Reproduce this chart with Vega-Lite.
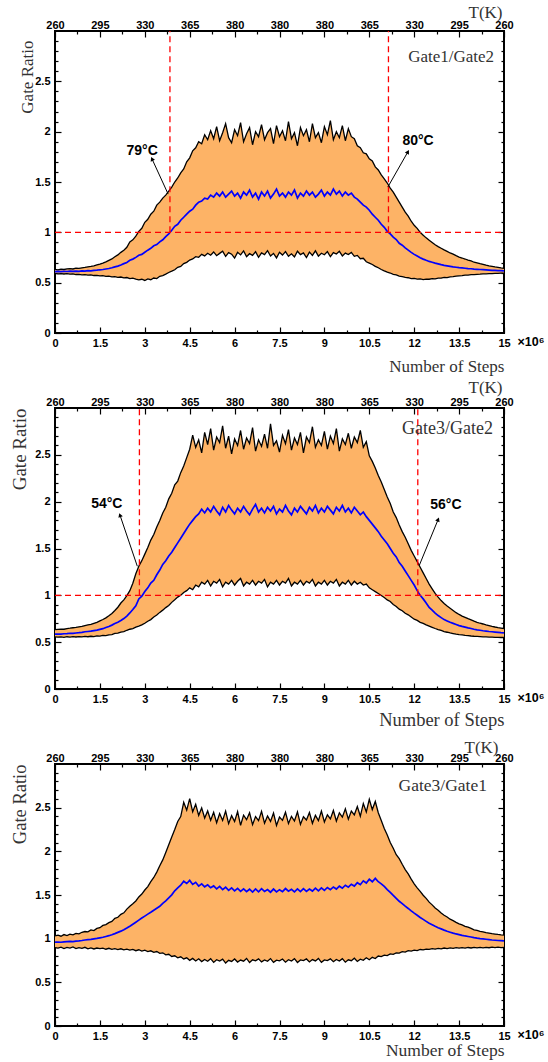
{
"$schema": "https://vega.github.io/schema/vega-lite/v6.json",
"padding": {"left": 9, "top": 2, "right": 5, "bottom": 5},
"spacing": 75,
"bounds": "flush",
"config": {
  "view": {"stroke": "black", "strokeWidth": 2},
  "axis": {"grid": false, "domain": false, "labelFont": "Liberation Sans", "labelFontWeight": "bold", "labelFontSize": 11, "labelColor": "black", "tickColor": "black", "tickWidth": 1.2, "titleFont": "Liberation Serif", "titleFontWeight": "normal", "titleColor": "#333", "labelOverlap": false, "labelFlush": false}
},
"datasets": {
"p1": [
{"x":0,"lo":0.592,"m":0.61,"hi":0.632},{"x":0.1,"lo":0.588,"m":0.612,"hi":0.628},{"x":0.2,"lo":0.59,"m":0.609,"hi":0.635},{"x":0.3,"lo":0.586,"m":0.613,"hi":0.631},{"x":0.4,"lo":0.589,"m":0.611,"hi":0.637},{"x":0.5,"lo":0.584,"m":0.614,"hi":0.64},{"x":0.6,"lo":0.587,"m":0.612,"hi":0.636},{"x":0.7,"lo":0.581,"m":0.615,"hi":0.644},{"x":0.8,"lo":0.583,"m":0.613,"hi":0.642},{"x":0.9,"lo":0.578,"m":0.617,"hi":0.648},
{"x":1,"lo":0.58,"m":0.615,"hi":0.652},{"x":1.1,"lo":0.574,"m":0.619,"hi":0.657},{"x":1.2,"lo":0.577,"m":0.618,"hi":0.661},{"x":1.3,"lo":0.571,"m":0.622,"hi":0.667},{"x":1.4,"lo":0.573,"m":0.624,"hi":0.676},{"x":1.5,"lo":0.567,"m":0.628,"hi":0.684},{"x":1.6,"lo":0.569,"m":0.631,"hi":0.695},{"x":1.7,"lo":0.563,"m":0.636,"hi":0.707},{"x":1.8,"lo":0.565,"m":0.641,"hi":0.722},{"x":1.9,"lo":0.558,"m":0.648,"hi":0.736},
{"x":2,"lo":0.56,"m":0.657,"hi":0.758},{"x":2.1,"lo":0.553,"m":0.664,"hi":0.776},{"x":2.2,"lo":0.556,"m":0.676,"hi":0.801},{"x":2.3,"lo":0.548,"m":0.689,"hi":0.822},{"x":2.4,"lo":0.551,"m":0.701,"hi":0.851},{"x":2.5,"lo":0.541,"m":0.722,"hi":0.905},{"x":2.6,"lo":0.545,"m":0.734,"hi":0.925},{"x":2.7,"lo":0.536,"m":0.751,"hi":0.962},{"x":2.8,"lo":0.528,"m":0.772,"hi":1.01},{"x":2.9,"lo":0.534,"m":0.781,"hi":1.04},
{"x":3,"lo":0.522,"m":0.802,"hi":1.1},{"x":3.1,"lo":0.538,"m":0.823,"hi":1.13},{"x":3.2,"lo":0.529,"m":0.841,"hi":1.18},{"x":3.3,"lo":0.546,"m":0.866,"hi":1.21},{"x":3.4,"lo":0.541,"m":0.878,"hi":1.27},{"x":3.5,"lo":0.563,"m":0.905,"hi":1.3},{"x":3.6,"lo":0.571,"m":0.926,"hi":1.34},{"x":3.7,"lo":0.585,"m":0.957,"hi":1.37},{"x":3.8,"lo":0.601,"m":0.985,"hi":1.41},{"x":3.9,"lo":0.614,"m":1.02,"hi":1.45},
{"x":4,"lo":0.628,"m":1.06,"hi":1.5},{"x":4.1,"lo":0.652,"m":1.08,"hi":1.54},{"x":4.2,"lo":0.661,"m":1.12,"hi":1.59},{"x":4.3,"lo":0.689,"m":1.15,"hi":1.63},{"x":4.4,"lo":0.702,"m":1.18,"hi":1.7},{"x":4.5,"lo":0.725,"m":1.21,"hi":1.74},{"x":4.6,"lo":0.736,"m":1.23,"hi":1.81},{"x":4.7,"lo":0.758,"m":1.27,"hi":1.84},{"x":4.8,"lo":0.752,"m":1.3,"hi":1.9},{"x":4.9,"lo":0.781,"m":1.31,"hi":1.88},
{"x":5,"lo":0.766,"m":1.34,"hi":1.97},{"x":5.1,"lo":0.792,"m":1.33,"hi":1.92},{"x":5.2,"lo":0.773,"m":1.37,"hi":2.01},{"x":5.3,"lo":0.805,"m":1.35,"hi":1.93},{"x":5.4,"lo":0.768,"m":1.39,"hi":2.05},{"x":5.5,"lo":0.791,"m":1.36,"hi":1.91},{"x":5.6,"lo":0.812,"m":1.4,"hi":1.99},{"x":5.7,"lo":0.762,"m":1.35,"hi":2.08},{"x":5.8,"lo":0.798,"m":1.38,"hi":1.94},{"x":5.9,"lo":0.783,"m":1.41,"hi":1.89},
{"x":6,"lo":0.744,"m":1.36,"hi":2.02},{"x":6.1,"lo":0.801,"m":1.39,"hi":1.96},{"x":6.2,"lo":0.776,"m":1.34,"hi":2.09},{"x":6.3,"lo":0.815,"m":1.4,"hi":1.9},{"x":6.4,"lo":0.759,"m":1.37,"hi":1.98},{"x":6.5,"lo":0.788,"m":1.42,"hi":2.04},{"x":6.6,"lo":0.771,"m":1.35,"hi":1.87},{"x":6.7,"lo":0.807,"m":1.39,"hi":2.0},{"x":6.8,"lo":0.752,"m":1.33,"hi":1.95},{"x":6.9,"lo":0.795,"m":1.4,"hi":2.07},
{"x":7,"lo":0.779,"m":1.36,"hi":1.92},{"x":7.1,"lo":0.818,"m":1.41,"hi":1.99},{"x":7.2,"lo":0.765,"m":1.34,"hi":2.03},{"x":7.3,"lo":0.791,"m":1.38,"hi":1.88},{"x":7.4,"lo":0.746,"m":1.43,"hi":2.06},{"x":7.5,"lo":0.802,"m":1.36,"hi":1.95},{"x":7.6,"lo":0.774,"m":1.39,"hi":2.01},{"x":7.7,"lo":0.809,"m":1.35,"hi":1.91},{"x":7.8,"lo":0.762,"m":1.4,"hi":2.1},{"x":7.9,"lo":0.787,"m":1.37,"hi":1.93},
{"x":8,"lo":0.756,"m":1.42,"hi":1.99},{"x":8.1,"lo":0.812,"m":1.34,"hi":1.86},{"x":8.2,"lo":0.778,"m":1.39,"hi":2.04},{"x":8.3,"lo":0.795,"m":1.36,"hi":1.96},{"x":8.4,"lo":0.749,"m":1.41,"hi":2.02},{"x":8.5,"lo":0.803,"m":1.37,"hi":1.9},{"x":8.6,"lo":0.771,"m":1.4,"hi":2.08},{"x":8.7,"lo":0.816,"m":1.35,"hi":1.94},{"x":8.8,"lo":0.763,"m":1.38,"hi":1.99},{"x":8.9,"lo":0.792,"m":1.42,"hi":1.89},
{"x":9,"lo":0.777,"m":1.36,"hi":2.05},{"x":9.1,"lo":0.808,"m":1.4,"hi":1.97},{"x":9.2,"lo":0.758,"m":1.37,"hi":2.11},{"x":9.3,"lo":0.798,"m":1.43,"hi":1.92},{"x":9.4,"lo":0.784,"m":1.38,"hi":2.0},{"x":9.5,"lo":0.811,"m":1.41,"hi":1.94},{"x":9.6,"lo":0.766,"m":1.36,"hi":2.06},{"x":9.7,"lo":0.794,"m":1.4,"hi":1.91},{"x":9.8,"lo":0.779,"m":1.37,"hi":2.03},{"x":9.9,"lo":0.801,"m":1.39,"hi":1.95},
{"x":10,"lo":0.762,"m":1.35,"hi":1.93},{"x":10.1,"lo":0.771,"m":1.33,"hi":1.86},{"x":10.2,"lo":0.738,"m":1.3,"hi":1.84},{"x":10.3,"lo":0.742,"m":1.27,"hi":1.79},{"x":10.4,"lo":0.708,"m":1.25,"hi":1.78},{"x":10.5,"lo":0.695,"m":1.22,"hi":1.73},{"x":10.6,"lo":0.681,"m":1.18,"hi":1.71},{"x":10.7,"lo":0.662,"m":1.15,"hi":1.65},{"x":10.8,"lo":0.648,"m":1.12,"hi":1.62},{"x":10.9,"lo":0.631,"m":1.08,"hi":1.57},
{"x":11,"lo":0.617,"m":1.05,"hi":1.53},{"x":11.1,"lo":0.604,"m":1.01,"hi":1.49},{"x":11.2,"lo":0.596,"m":0.985,"hi":1.44},{"x":11.3,"lo":0.583,"m":0.952,"hi":1.4},{"x":11.4,"lo":0.578,"m":0.928,"hi":1.35},{"x":11.5,"lo":0.566,"m":0.891,"hi":1.3},{"x":11.6,"lo":0.561,"m":0.872,"hi":1.25},{"x":11.7,"lo":0.552,"m":0.845,"hi":1.2},{"x":11.8,"lo":0.549,"m":0.823,"hi":1.16},{"x":11.9,"lo":0.541,"m":0.801,"hi":1.11},
{"x":12,"lo":0.543,"m":0.781,"hi":1.07},{"x":12.1,"lo":0.535,"m":0.765,"hi":1.04},{"x":12.2,"lo":0.538,"m":0.748,"hi":1.0},{"x":12.3,"lo":0.531,"m":0.734,"hi":0.972},{"x":12.4,"lo":0.536,"m":0.722,"hi":0.945},{"x":12.5,"lo":0.534,"m":0.711,"hi":0.921},{"x":12.6,"lo":0.541,"m":0.703,"hi":0.898},{"x":12.7,"lo":0.538,"m":0.694,"hi":0.876},{"x":12.8,"lo":0.546,"m":0.687,"hi":0.858},{"x":12.9,"lo":0.545,"m":0.679,"hi":0.842},
{"x":13,"lo":0.553,"m":0.672,"hi":0.826},{"x":13.1,"lo":0.551,"m":0.667,"hi":0.811},{"x":13.2,"lo":0.558,"m":0.662,"hi":0.795},{"x":13.3,"lo":0.56,"m":0.657,"hi":0.783},{"x":13.4,"lo":0.564,"m":0.653,"hi":0.768},{"x":13.5,"lo":0.568,"m":0.649,"hi":0.754},{"x":13.6,"lo":0.57,"m":0.646,"hi":0.745},{"x":13.7,"lo":0.574,"m":0.643,"hi":0.735},{"x":13.8,"lo":0.575,"m":0.64,"hi":0.724},{"x":13.9,"lo":0.579,"m":0.638,"hi":0.716},
{"x":14,"lo":0.58,"m":0.635,"hi":0.703},{"x":14.1,"lo":0.583,"m":0.633,"hi":0.697},{"x":14.2,"lo":0.584,"m":0.631,"hi":0.688},{"x":14.3,"lo":0.587,"m":0.629,"hi":0.682},{"x":14.4,"lo":0.588,"m":0.627,"hi":0.674},{"x":14.5,"lo":0.59,"m":0.625,"hi":0.667},{"x":14.6,"lo":0.59,"m":0.623,"hi":0.662},{"x":14.7,"lo":0.592,"m":0.622,"hi":0.656},{"x":14.8,"lo":0.593,"m":0.62,"hi":0.652},{"x":14.9,"lo":0.594,"m":0.619,"hi":0.647},
{"x":15,"lo":0.595,"m":0.618,"hi":0.643}
],
"p2": [
{"x":0,"lo":0.556,"m":0.585,"hi":0.633},{"x":0.1,"lo":0.553,"m":0.587,"hi":0.637},{"x":0.2,"lo":0.557,"m":0.586,"hi":0.64},{"x":0.3,"lo":0.552,"m":0.59,"hi":0.638},{"x":0.4,"lo":0.558,"m":0.591,"hi":0.645},{"x":0.5,"lo":0.554,"m":0.595,"hi":0.649},{"x":0.6,"lo":0.559,"m":0.594,"hi":0.654},{"x":0.7,"lo":0.555,"m":0.598,"hi":0.657},{"x":0.8,"lo":0.56,"m":0.601,"hi":0.664},{"x":0.9,"lo":0.556,"m":0.605,"hi":0.668},
{"x":1,"lo":0.561,"m":0.611,"hi":0.677},{"x":1.1,"lo":0.558,"m":0.614,"hi":0.684},{"x":1.2,"lo":0.563,"m":0.617,"hi":0.689},{"x":1.3,"lo":0.56,"m":0.623,"hi":0.701},{"x":1.4,"lo":0.567,"m":0.629,"hi":0.712},{"x":1.5,"lo":0.565,"m":0.637,"hi":0.728},{"x":1.6,"lo":0.572,"m":0.644,"hi":0.742},{"x":1.7,"lo":0.57,"m":0.656,"hi":0.759},{"x":1.8,"lo":0.578,"m":0.667,"hi":0.781},{"x":1.9,"lo":0.581,"m":0.682,"hi":0.806},
{"x":2,"lo":0.593,"m":0.699,"hi":0.838},{"x":2.1,"lo":0.596,"m":0.712,"hi":0.873},{"x":2.2,"lo":0.608,"m":0.731,"hi":0.918},{"x":2.3,"lo":0.612,"m":0.752,"hi":0.951},{"x":2.4,"lo":0.627,"m":0.779,"hi":0.997},{"x":2.5,"lo":0.638,"m":0.812,"hi":1.05},{"x":2.6,"lo":0.645,"m":0.848,"hi":1.13},{"x":2.7,"lo":0.661,"m":0.889,"hi":1.23},{"x":2.8,"lo":0.672,"m":0.962,"hi":1.31},{"x":2.9,"lo":0.684,"m":0.991,"hi":1.37},
{"x":3,"lo":0.702,"m":1.04,"hi":1.44},{"x":3.1,"lo":0.724,"m":1.08,"hi":1.51},{"x":3.2,"lo":0.741,"m":1.13,"hi":1.59},{"x":3.3,"lo":0.768,"m":1.16,"hi":1.65},{"x":3.4,"lo":0.789,"m":1.22,"hi":1.73},{"x":3.5,"lo":0.818,"m":1.27,"hi":1.8},{"x":3.6,"lo":0.842,"m":1.33,"hi":1.88},{"x":3.7,"lo":0.869,"m":1.37,"hi":1.94},{"x":3.8,"lo":0.891,"m":1.42,"hi":2.03},{"x":3.9,"lo":0.925,"m":1.46,"hi":2.09},
{"x":4,"lo":0.952,"m":1.51,"hi":2.18},{"x":4.1,"lo":0.981,"m":1.56,"hi":2.22},{"x":4.2,"lo":1.0,"m":1.61,"hi":2.31},{"x":4.3,"lo":1.03,"m":1.66,"hi":2.38},{"x":4.4,"lo":1.05,"m":1.71,"hi":2.47},{"x":4.5,"lo":1.08,"m":1.76,"hi":2.56},{"x":4.6,"lo":1.06,"m":1.8,"hi":2.71},{"x":4.7,"lo":1.11,"m":1.84,"hi":2.58},{"x":4.8,"lo":1.09,"m":1.87,"hi":2.66},{"x":4.9,"lo":1.14,"m":1.92,"hi":2.52},
{"x":5,"lo":1.12,"m":1.88,"hi":2.74},{"x":5.1,"lo":1.16,"m":1.93,"hi":2.61},{"x":5.2,"lo":1.1,"m":1.89,"hi":2.78},{"x":5.3,"lo":1.15,"m":1.95,"hi":2.55},{"x":5.4,"lo":1.13,"m":1.9,"hi":2.69},{"x":5.5,"lo":1.17,"m":1.86,"hi":2.63},{"x":5.6,"lo":1.09,"m":1.94,"hi":2.81},{"x":5.7,"lo":1.14,"m":1.89,"hi":2.57},{"x":5.8,"lo":1.12,"m":1.96,"hi":2.7},{"x":5.9,"lo":1.16,"m":1.91,"hi":2.51},
{"x":6,"lo":1.11,"m":1.87,"hi":2.67},{"x":6.1,"lo":1.15,"m":1.93,"hi":2.6},{"x":6.2,"lo":1.18,"m":1.89,"hi":2.76},{"x":6.3,"lo":1.1,"m":1.95,"hi":2.56},{"x":6.4,"lo":1.14,"m":1.9,"hi":2.68},{"x":6.5,"lo":1.12,"m":1.86,"hi":2.62},{"x":6.6,"lo":1.16,"m":1.92,"hi":2.79},{"x":6.7,"lo":1.11,"m":1.97,"hi":2.54},{"x":6.8,"lo":1.15,"m":1.89,"hi":2.66},{"x":6.9,"lo":1.13,"m":1.93,"hi":2.59},
{"x":7,"lo":1.17,"m":1.88,"hi":2.72},{"x":7.1,"lo":1.09,"m":1.94,"hi":2.57},{"x":7.2,"lo":1.14,"m":1.9,"hi":2.83},{"x":7.3,"lo":1.12,"m":1.95,"hi":2.6},{"x":7.4,"lo":1.16,"m":1.87,"hi":2.65},{"x":7.5,"lo":1.11,"m":1.92,"hi":2.53},{"x":7.6,"lo":1.15,"m":1.89,"hi":2.71},{"x":7.7,"lo":1.13,"m":1.96,"hi":2.62},{"x":7.8,"lo":1.18,"m":1.9,"hi":2.77},{"x":7.9,"lo":1.1,"m":1.86,"hi":2.55},
{"x":8,"lo":1.14,"m":1.93,"hi":2.68},{"x":8.1,"lo":1.12,"m":1.89,"hi":2.61},{"x":8.2,"lo":1.16,"m":1.95,"hi":2.74},{"x":8.3,"lo":1.11,"m":1.91,"hi":2.52},{"x":8.4,"lo":1.15,"m":1.87,"hi":2.69},{"x":8.5,"lo":1.13,"m":1.94,"hi":2.63},{"x":8.6,"lo":1.17,"m":1.9,"hi":2.8},{"x":8.7,"lo":1.1,"m":1.96,"hi":2.58},{"x":8.8,"lo":1.14,"m":1.88,"hi":2.66},{"x":8.9,"lo":1.12,"m":1.93,"hi":2.6},
{"x":9,"lo":1.16,"m":1.89,"hi":2.75},{"x":9.1,"lo":1.11,"m":1.95,"hi":2.56},{"x":9.2,"lo":1.15,"m":1.91,"hi":2.7},{"x":9.3,"lo":1.13,"m":1.87,"hi":2.62},{"x":9.4,"lo":1.17,"m":1.94,"hi":2.78},{"x":9.5,"lo":1.1,"m":1.9,"hi":2.54},{"x":9.6,"lo":1.14,"m":1.96,"hi":2.67},{"x":9.7,"lo":1.12,"m":1.89,"hi":2.61},{"x":9.8,"lo":1.16,"m":1.93,"hi":2.73},{"x":9.9,"lo":1.11,"m":1.88,"hi":2.57},
{"x":10,"lo":1.15,"m":1.94,"hi":2.69},{"x":10.1,"lo":1.12,"m":1.9,"hi":2.63},{"x":10.2,"lo":1.14,"m":1.86,"hi":2.76},{"x":10.3,"lo":1.11,"m":1.89,"hi":2.58},{"x":10.4,"lo":1.12,"m":1.84,"hi":2.64},{"x":10.5,"lo":1.08,"m":1.8,"hi":2.49},{"x":10.6,"lo":1.06,"m":1.76,"hi":2.43},{"x":10.7,"lo":1.04,"m":1.72,"hi":2.36},{"x":10.8,"lo":1.02,"m":1.68,"hi":2.28},{"x":10.9,"lo":0.998,"m":1.63,"hi":2.21},
{"x":11,"lo":0.976,"m":1.59,"hi":2.13},{"x":11.1,"lo":0.951,"m":1.55,"hi":2.05},{"x":11.2,"lo":0.934,"m":1.5,"hi":1.98},{"x":11.3,"lo":0.902,"m":1.45,"hi":1.89},{"x":11.4,"lo":0.881,"m":1.41,"hi":1.83},{"x":11.5,"lo":0.852,"m":1.35,"hi":1.75},{"x":11.6,"lo":0.835,"m":1.31,"hi":1.68},{"x":11.7,"lo":0.808,"m":1.26,"hi":1.62},{"x":11.8,"lo":0.792,"m":1.21,"hi":1.55},{"x":11.9,"lo":0.768,"m":1.16,"hi":1.48},
{"x":12,"lo":0.745,"m":1.11,"hi":1.42},{"x":12.1,"lo":0.733,"m":1.05,"hi":1.36},{"x":12.2,"lo":0.712,"m":1.0,"hi":1.3},{"x":12.3,"lo":0.701,"m":0.962,"hi":1.24},{"x":12.4,"lo":0.685,"m":0.918,"hi":1.18},{"x":12.5,"lo":0.672,"m":0.871,"hi":1.12},{"x":12.6,"lo":0.659,"m":0.843,"hi":1.07},{"x":12.7,"lo":0.646,"m":0.811,"hi":1.02},{"x":12.8,"lo":0.634,"m":0.784,"hi":0.981},{"x":12.9,"lo":0.625,"m":0.762,"hi":0.944},
{"x":13,"lo":0.612,"m":0.741,"hi":0.912},{"x":13.1,"lo":0.606,"m":0.727,"hi":0.885},{"x":13.2,"lo":0.598,"m":0.712,"hi":0.862},{"x":13.3,"lo":0.592,"m":0.701,"hi":0.838},{"x":13.4,"lo":0.586,"m":0.689,"hi":0.815},{"x":13.5,"lo":0.581,"m":0.677,"hi":0.796},{"x":13.6,"lo":0.577,"m":0.668,"hi":0.778},{"x":13.7,"lo":0.573,"m":0.661,"hi":0.765},{"x":13.8,"lo":0.57,"m":0.653,"hi":0.751},{"x":13.9,"lo":0.566,"m":0.646,"hi":0.738},
{"x":14,"lo":0.563,"m":0.638,"hi":0.724},{"x":14.1,"lo":0.561,"m":0.632,"hi":0.712},{"x":14.2,"lo":0.559,"m":0.627,"hi":0.702},{"x":14.3,"lo":0.557,"m":0.622,"hi":0.694},{"x":14.4,"lo":0.556,"m":0.618,"hi":0.685},{"x":14.5,"lo":0.554,"m":0.614,"hi":0.677},{"x":14.6,"lo":0.553,"m":0.611,"hi":0.669},{"x":14.7,"lo":0.552,"m":0.608,"hi":0.662},{"x":14.8,"lo":0.551,"m":0.605,"hi":0.656},{"x":14.9,"lo":0.55,"m":0.602,"hi":0.651},
{"x":15,"lo":0.55,"m":0.6,"hi":0.646}
],
"p3": [
{"x":0,"lo":0.898,"m":0.96,"hi":1.032},{"x":0.1,"lo":0.891,"m":0.962,"hi":1.041},{"x":0.2,"lo":0.903,"m":0.959,"hi":1.028},{"x":0.3,"lo":0.887,"m":0.964,"hi":1.047},{"x":0.4,"lo":0.899,"m":0.966,"hi":1.036},{"x":0.5,"lo":0.892,"m":0.968,"hi":1.052},{"x":0.6,"lo":0.905,"m":0.967,"hi":1.044},{"x":0.7,"lo":0.886,"m":0.972,"hi":1.061},{"x":0.8,"lo":0.897,"m":0.975,"hi":1.055},{"x":0.9,"lo":0.889,"m":0.979,"hi":1.073},
{"x":1,"lo":0.901,"m":0.985,"hi":1.082},{"x":1.1,"lo":0.884,"m":0.988,"hi":1.078},{"x":1.2,"lo":0.895,"m":0.991,"hi":1.101},{"x":1.3,"lo":0.882,"m":0.997,"hi":1.093},{"x":1.4,"lo":0.893,"m":1.003,"hi":1.118},{"x":1.5,"lo":0.886,"m":1.01,"hi":1.126},{"x":1.6,"lo":0.892,"m":1.016,"hi":1.152},{"x":1.7,"lo":0.879,"m":1.025,"hi":1.161},{"x":1.8,"lo":0.89,"m":1.034,"hi":1.183},{"x":1.9,"lo":0.877,"m":1.045,"hi":1.197},
{"x":2,"lo":0.886,"m":1.058,"hi":1.232},{"x":2.1,"lo":0.874,"m":1.072,"hi":1.245},{"x":2.2,"lo":0.884,"m":1.086,"hi":1.279},{"x":2.3,"lo":0.871,"m":1.103,"hi":1.296},{"x":2.4,"lo":0.88,"m":1.121,"hi":1.338},{"x":2.5,"lo":0.868,"m":1.142,"hi":1.372},{"x":2.6,"lo":0.877,"m":1.165,"hi":1.401},{"x":2.7,"lo":0.862,"m":1.188,"hi":1.432},{"x":2.8,"lo":0.873,"m":1.212,"hi":1.478},{"x":2.9,"lo":0.858,"m":1.236,"hi":1.511},
{"x":3,"lo":0.869,"m":1.258,"hi":1.557},{"x":3.1,"lo":0.852,"m":1.281,"hi":1.596},{"x":3.2,"lo":0.861,"m":1.302,"hi":1.652},{"x":3.3,"lo":0.844,"m":1.326,"hi":1.701},{"x":3.4,"lo":0.853,"m":1.348,"hi":1.762},{"x":3.5,"lo":0.832,"m":1.371,"hi":1.835},{"x":3.6,"lo":0.838,"m":1.405,"hi":1.902},{"x":3.7,"lo":0.815,"m":1.432,"hi":1.987},{"x":3.8,"lo":0.821,"m":1.468,"hi":2.076},{"x":3.9,"lo":0.796,"m":1.502,"hi":2.165},
{"x":4,"lo":0.804,"m":1.548,"hi":2.249},{"x":4.1,"lo":0.781,"m":1.581,"hi":2.342},{"x":4.2,"lo":0.792,"m":1.612,"hi":2.398},{"x":4.3,"lo":0.768,"m":1.658,"hi":2.562},{"x":4.4,"lo":0.781,"m":1.632,"hi":2.471},{"x":4.5,"lo":0.752,"m":1.667,"hi":2.603},{"x":4.6,"lo":0.774,"m":1.621,"hi":2.452},{"x":4.7,"lo":0.745,"m":1.645,"hi":2.538},{"x":4.8,"lo":0.769,"m":1.602,"hi":2.412},{"x":4.9,"lo":0.738,"m":1.628,"hi":2.497},
{"x":5,"lo":0.762,"m":1.594,"hi":2.381},{"x":5.1,"lo":0.741,"m":1.617,"hi":2.462},{"x":5.2,"lo":0.771,"m":1.583,"hi":2.356},{"x":5.3,"lo":0.728,"m":1.604,"hi":2.447},{"x":5.4,"lo":0.759,"m":1.571,"hi":2.328},{"x":5.5,"lo":0.744,"m":1.598,"hi":2.432},{"x":5.6,"lo":0.766,"m":1.562,"hi":2.354},{"x":5.7,"lo":0.721,"m":1.589,"hi":2.461},{"x":5.8,"lo":0.752,"m":1.553,"hi":2.317},{"x":5.9,"lo":0.739,"m":1.581,"hi":2.408},
{"x":6,"lo":0.768,"m":1.547,"hi":2.342},{"x":6.1,"lo":0.732,"m":1.576,"hi":2.455},{"x":6.2,"lo":0.755,"m":1.542,"hi":2.298},{"x":6.3,"lo":0.742,"m":1.571,"hi":2.414},{"x":6.4,"lo":0.773,"m":1.538,"hi":2.362},{"x":6.5,"lo":0.726,"m":1.566,"hi":2.442},{"x":6.6,"lo":0.758,"m":1.534,"hi":2.306},{"x":6.7,"lo":0.746,"m":1.569,"hi":2.398},{"x":6.8,"lo":0.769,"m":1.537,"hi":2.351},{"x":6.9,"lo":0.734,"m":1.572,"hi":2.457},
{"x":7,"lo":0.757,"m":1.541,"hi":2.322},{"x":7.1,"lo":0.741,"m":1.563,"hi":2.404},{"x":7.2,"lo":0.772,"m":1.532,"hi":2.343},{"x":7.3,"lo":0.729,"m":1.568,"hi":2.438},{"x":7.4,"lo":0.754,"m":1.536,"hi":2.296},{"x":7.5,"lo":0.747,"m":1.561,"hi":2.392},{"x":7.6,"lo":0.767,"m":1.539,"hi":2.355},{"x":7.7,"lo":0.731,"m":1.574,"hi":2.448},{"x":7.8,"lo":0.759,"m":1.543,"hi":2.318},{"x":7.9,"lo":0.743,"m":1.565,"hi":2.401},
{"x":8,"lo":0.771,"m":1.535,"hi":2.347},{"x":8.1,"lo":0.727,"m":1.569,"hi":2.452},{"x":8.2,"lo":0.756,"m":1.538,"hi":2.308},{"x":8.3,"lo":0.748,"m":1.572,"hi":2.396},{"x":8.4,"lo":0.768,"m":1.541,"hi":2.359},{"x":8.5,"lo":0.733,"m":1.567,"hi":2.444},{"x":8.6,"lo":0.761,"m":1.545,"hi":2.321},{"x":8.7,"lo":0.745,"m":1.578,"hi":2.412},{"x":8.8,"lo":0.774,"m":1.547,"hi":2.352},{"x":8.9,"lo":0.729,"m":1.581,"hi":2.461},
{"x":9,"lo":0.757,"m":1.552,"hi":2.336},{"x":9.1,"lo":0.749,"m":1.586,"hi":2.418},{"x":9.2,"lo":0.769,"m":1.561,"hi":2.372},{"x":9.3,"lo":0.736,"m":1.592,"hi":2.468},{"x":9.4,"lo":0.762,"m":1.568,"hi":2.347},{"x":9.5,"lo":0.744,"m":1.601,"hi":2.441},{"x":9.6,"lo":0.771,"m":1.579,"hi":2.392},{"x":9.7,"lo":0.731,"m":1.612,"hi":2.487},{"x":9.8,"lo":0.758,"m":1.589,"hi":2.368},{"x":9.9,"lo":0.748,"m":1.623,"hi":2.462},
{"x":10,"lo":0.776,"m":1.602,"hi":2.418},{"x":10.1,"lo":0.739,"m":1.641,"hi":2.512},{"x":10.2,"lo":0.765,"m":1.618,"hi":2.401},{"x":10.3,"lo":0.752,"m":1.662,"hi":2.548},{"x":10.4,"lo":0.781,"m":1.637,"hi":2.452},{"x":10.5,"lo":0.758,"m":1.681,"hi":2.596},{"x":10.6,"lo":0.786,"m":1.652,"hi":2.478},{"x":10.7,"lo":0.772,"m":1.691,"hi":2.571},{"x":10.8,"lo":0.801,"m":1.652,"hi":2.442},{"x":10.9,"lo":0.794,"m":1.628,"hi":2.352},
{"x":11,"lo":0.812,"m":1.598,"hi":2.261},{"x":11.1,"lo":0.806,"m":1.562,"hi":2.187},{"x":11.2,"lo":0.826,"m":1.531,"hi":2.101},{"x":11.3,"lo":0.821,"m":1.495,"hi":2.036},{"x":11.4,"lo":0.838,"m":1.462,"hi":1.962},{"x":11.5,"lo":0.834,"m":1.428,"hi":1.917},{"x":11.6,"lo":0.851,"m":1.401,"hi":1.852},{"x":11.7,"lo":0.846,"m":1.372,"hi":1.791},{"x":11.8,"lo":0.862,"m":1.346,"hi":1.742},{"x":11.9,"lo":0.858,"m":1.318,"hi":1.681},
{"x":12,"lo":0.869,"m":1.292,"hi":1.628},{"x":12.1,"lo":0.864,"m":1.268,"hi":1.582},{"x":12.2,"lo":0.876,"m":1.242,"hi":1.541},{"x":12.3,"lo":0.871,"m":1.221,"hi":1.497},{"x":12.4,"lo":0.881,"m":1.198,"hi":1.462},{"x":12.5,"lo":0.877,"m":1.176,"hi":1.418},{"x":12.6,"lo":0.886,"m":1.159,"hi":1.387},{"x":12.7,"lo":0.88,"m":1.141,"hi":1.352},{"x":12.8,"lo":0.889,"m":1.126,"hi":1.326},{"x":12.9,"lo":0.884,"m":1.112,"hi":1.295},
{"x":13,"lo":0.893,"m":1.098,"hi":1.268},{"x":13.1,"lo":0.887,"m":1.085,"hi":1.248},{"x":13.2,"lo":0.895,"m":1.074,"hi":1.223},{"x":13.3,"lo":0.889,"m":1.063,"hi":1.207},{"x":13.4,"lo":0.897,"m":1.054,"hi":1.186},{"x":13.5,"lo":0.891,"m":1.046,"hi":1.169},{"x":13.6,"lo":0.898,"m":1.038,"hi":1.158},{"x":13.7,"lo":0.892,"m":1.031,"hi":1.141},{"x":13.8,"lo":0.899,"m":1.025,"hi":1.132},{"x":13.9,"lo":0.893,"m":1.019,"hi":1.118},
{"x":14,"lo":0.9,"m":1.012,"hi":1.101},{"x":14.1,"lo":0.894,"m":1.006,"hi":1.095},{"x":14.2,"lo":0.901,"m":1.001,"hi":1.084},{"x":14.3,"lo":0.895,"m":0.997,"hi":1.078},{"x":14.4,"lo":0.901,"m":0.993,"hi":1.069},{"x":14.5,"lo":0.896,"m":0.989,"hi":1.064},{"x":14.6,"lo":0.902,"m":0.985,"hi":1.057},{"x":14.7,"lo":0.897,"m":0.982,"hi":1.053},{"x":14.8,"lo":0.902,"m":0.979,"hi":1.048},{"x":14.9,"lo":0.898,"m":0.977,"hi":1.044},
{"x":15,"lo":0.901,"m":0.975,"hi":1.041}
]
},
"vconcat": [
{
 "width": 449, "height": 302,
 "resolve": {"axis": {"x": "independent", "y": "independent"}},
 "layer": [
  {"data": {"name": "p1"}, "mark": {"type": "area", "color": "#FDB366", "opacity": 1},
   "encoding": {
    "x": {"field": "x", "type": "quantitative", "scale": {"domain": [0, 15], "nice": false, "zero": false},
      "axis": {"orient": "bottom", "values": [0,1.5,3,4.5,6,7.5,9,10.5,12,13.5,15], "labelExpr": "'' + datum.value", "tickSize": -6, "labelPadding": 10, "title": "Number of Steps", "titleFontSize": 17, "titleAlign": "right", "titleX": 449, "titleY": 33, "titleBaseline": "middle"}},
    "y": {"field": "lo", "type": "quantitative", "scale": {"domain": [0, 3], "nice": false, "zero": false},
      "axis": {"orient": "left", "values": [0,0.5,1,1.5,2,2.5], "labelExpr": "'' + datum.value", "tickSize": -6, "labelPadding": 11, "title": "Gate Ratio", "titleFontSize": 17, "titleX": -28, "titleY": 9, "titleAlign": "right", "titleBaseline": "middle", "titleAngle": 270}},
    "y2": {"field": "hi"}
   }},
  {"data": {"name": "p1"}, "mark": {"type": "line", "color": "black", "strokeWidth": 1.3},
   "encoding": {
    "x": {"field": "x", "type": "quantitative", "axis": {"orient": "top", "values": [0,1.5,3,4.5,6,7.5,9,10.5,12,13.5,15], "labelExpr": "['260','295','330','365','380','380','380','365','330','295','260'][round(datum.value/1.5)]", "tickSize": -6, "labelPadding": 7, "title": "T(K)", "titleFontSize": 17, "titleAlign": "right", "titleX": 447, "titleY": -19, "titleBaseline": "middle"}},
    "y": {"field": "hi", "type": "quantitative", "axis": {"orient": "right", "values": [0.5,1,1.5,2,2.5], "labels": false, "tickSize": -6, "title": null}}
   }},
  {"data": {"name": "p1"}, "mark": {"type": "line", "color": "black", "strokeWidth": 1.3},
   "encoding": {
    "x": {"field": "x", "type": "quantitative", "axis": {"orient": "bottom", "values": [0.75,2.25,3.75,5.25,6.75,8.25,9.75,11.25,12.75,14.25], "labels": false, "tickSize": -3, "title": null}},
    "y": {"field": "lo", "type": "quantitative", "axis": {"orient": "left", "values": [0.1,0.2,0.3,0.4,0.6,0.7,0.8,0.9,1.1,1.2,1.3,1.4,1.6,1.7,1.8,1.9,2.1,2.2,2.3,2.4,2.6,2.7,2.8,2.9], "labels": false, "tickSize": -3, "title": null}}
   }},
  {"data": {"name": "p1"}, "mark": {"type": "line", "color": "#0000FF", "strokeWidth": 1.7},
   "encoding": {
    "x": {"field": "x", "type": "quantitative", "axis": {"orient": "top", "values": [0.75,2.25,3.75,5.25,6.75,8.25,9.75,11.25,12.75,14.25], "labels": false, "tickSize": -3, "title": null}},
    "y": {"field": "m", "type": "quantitative", "axis": {"orient": "right", "values": [0.1,0.2,0.3,0.4,0.6,0.7,0.8,0.9,1.1,1.2,1.3,1.4,1.6,1.7,1.8,1.9,2.1,2.2,2.3,2.4,2.6,2.7,2.8,2.9], "labels": false, "tickSize": -3, "title": null}}
   }},
  {"data": {"values": [{"x": 3.84, "x2": 3.84, "y": 1, "y2": 3}, {"x": 11.14, "x2": 11.14, "y": 1, "y2": 3}, {"x": 0, "x2": 15, "y": 1, "y2": 1}]},
   "mark": {"type": "rule", "color": "#FF0000", "strokeWidth": 1.3, "strokeDash": [6, 4]},
   "encoding": {"x": {"field": "x", "type": "quantitative", "axis": null}, "x2": {"field": "x2"}, "y": {"field": "y", "type": "quantitative", "axis": null}, "y2": {"field": "y2"}}},
  {"data": {"values": [{"x": 3.78, "y": 1.38, "x2": 3.24, "y2": 1.73}, {"x": 11.12, "y": 1.45, "x2": 11.79, "y2": 1.8}]},
   "mark": {"type": "rule", "color": "black", "strokeWidth": 1},
   "encoding": {"x": {"field": "x", "type": "quantitative", "axis": null}, "x2": {"field": "x2"}, "y": {"field": "y", "type": "quantitative", "axis": null}, "y2": {"field": "y2"}}},
  {"data": {"values": [{"x2": 3.24, "y2": 1.73, "ang": 335}, {"x2": 11.79, "y2": 1.8, "ang": 30}]},
   "mark": {"type": "point", "shape": "triangle-up", "filled": true, "color": "black", "size": 22, "opacity": 1},
   "encoding": {"x": {"field": "x2", "type": "quantitative", "axis": null}, "y": {"field": "y2", "type": "quantitative", "axis": null}, "angle": {"field": "ang", "type": "quantitative", "scale": null}}},
  {"data": {"values": [{"x": 2.91, "y": 1.81, "t": "79°C"}, {"x": 12.13, "y": 1.91, "t": "80°C"}]},
   "mark": {"type": "text", "font": "Liberation Sans", "fontWeight": "bold", "fontSize": 14, "color": "black", "align": "center", "baseline": "middle"},
   "encoding": {"x": {"field": "x", "type": "quantitative", "axis": null}, "y": {"field": "y", "type": "quantitative", "axis": null}, "text": {"field": "t"}}},
  {"data": {"values": [{"x": 14.67, "y": 2.74, "t": "Gate1/Gate2"}]},
   "mark": {"type": "text", "font": "Liberation Serif", "fontSize": 17, "color": "#333", "align": "right", "baseline": "middle"},
   "encoding": {"x": {"field": "x", "type": "quantitative", "axis": null}, "y": {"field": "y", "type": "quantitative", "axis": null}, "text": {"field": "t"}}},
  {"data": {"values": [{"x": 15.45, "y": -0.085, "t": "×10⁶"}]},
   "mark": {"type": "text", "font": "Liberation Sans", "fontWeight": "bold", "fontSize": 12.5, "color": "black", "align": "left", "baseline": "middle"},
   "encoding": {"x": {"field": "x", "type": "quantitative", "axis": null}, "y": {"field": "y", "type": "quantitative", "axis": null}, "text": {"field": "t"}}}
 ]
},
{
 "width": 449, "height": 281,
 "resolve": {"axis": {"x": "independent", "y": "independent"}},
 "layer": [
  {"data": {"name": "p2"}, "mark": {"type": "area", "color": "#FDB366", "opacity": 1},
   "encoding": {
    "x": {"field": "x", "type": "quantitative", "scale": {"domain": [0, 15], "nice": false, "zero": false},
      "axis": {"orient": "bottom", "values": [0,1.5,3,4.5,6,7.5,9,10.5,12,13.5,15], "labelExpr": "'' + datum.value", "tickSize": -6, "labelPadding": 10, "title": "Number of Steps", "titleFontSize": 18.5, "titleAlign": "right", "titleX": 449, "titleY": 30, "titleBaseline": "middle"}},
    "y": {"field": "lo", "type": "quantitative", "scale": {"domain": [0, 3], "nice": false, "zero": false},
      "axis": {"orient": "left", "values": [0,0.5,1,1.5,2,2.5], "labelExpr": "'' + datum.value", "tickSize": -6, "labelPadding": 11, "title": "Gate Ratio", "titleFontSize": 19, "titleX": -36, "titleY": 0, "titleAlign": "right", "titleBaseline": "middle", "titleAngle": 270}},
    "y2": {"field": "hi"}
   }},
  {"data": {"name": "p2"}, "mark": {"type": "line", "color": "black", "strokeWidth": 1.3},
   "encoding": {
    "x": {"field": "x", "type": "quantitative", "axis": {"orient": "top", "values": [0,1.5,3,4.5,6,7.5,9,10.5,12,13.5,15], "labelExpr": "['260','295','330','365','380','380','380','365','330','295','260'][round(datum.value/1.5)]", "tickSize": -6, "labelPadding": 7, "title": "T(K)", "titleFontSize": 17, "titleAlign": "right", "titleX": 447, "titleY": -21, "titleBaseline": "middle"}},
    "y": {"field": "hi", "type": "quantitative", "axis": {"orient": "right", "values": [0.5,1,1.5,2,2.5], "labels": false, "tickSize": -6, "title": null}}
   }},
  {"data": {"name": "p2"}, "mark": {"type": "line", "color": "black", "strokeWidth": 1.3},
   "encoding": {
    "x": {"field": "x", "type": "quantitative", "axis": {"orient": "bottom", "values": [0.75,2.25,3.75,5.25,6.75,8.25,9.75,11.25,12.75,14.25], "labels": false, "tickSize": -3, "title": null}},
    "y": {"field": "lo", "type": "quantitative", "axis": {"orient": "left", "values": [0.1,0.2,0.3,0.4,0.6,0.7,0.8,0.9,1.1,1.2,1.3,1.4,1.6,1.7,1.8,1.9,2.1,2.2,2.3,2.4,2.6,2.7,2.8,2.9], "labels": false, "tickSize": -3, "title": null}}
   }},
  {"data": {"name": "p2"}, "mark": {"type": "line", "color": "#0000FF", "strokeWidth": 1.7},
   "encoding": {
    "x": {"field": "x", "type": "quantitative", "axis": {"orient": "top", "values": [0.75,2.25,3.75,5.25,6.75,8.25,9.75,11.25,12.75,14.25], "labels": false, "tickSize": -3, "title": null}},
    "y": {"field": "m", "type": "quantitative", "axis": {"orient": "right", "values": [0.1,0.2,0.3,0.4,0.6,0.7,0.8,0.9,1.1,1.2,1.3,1.4,1.6,1.7,1.8,1.9,2.1,2.2,2.3,2.4,2.6,2.7,2.8,2.9], "labels": false, "tickSize": -3, "title": null}}
   }},
  {"data": {"values": [{"x": 2.82, "x2": 2.82, "y": 1, "y2": 3}, {"x": 12.12, "x2": 12.12, "y": 1, "y2": 3}, {"x": 0, "x2": 15, "y": 1, "y2": 1}]},
   "mark": {"type": "rule", "color": "#FF0000", "strokeWidth": 1.3, "strokeDash": [6, 4]},
   "encoding": {"x": {"field": "x", "type": "quantitative", "axis": null}, "x2": {"field": "x2"}, "y": {"field": "y", "type": "quantitative", "axis": null}, "y2": {"field": "y2"}}},
  {"data": {"values": [{"x": 2.75, "y": 1.31, "x2": 2.17, "y2": 1.857}, {"x": 12.17, "y": 1.32, "x2": 12.8, "y2": 1.81}]},
   "mark": {"type": "rule", "color": "black", "strokeWidth": 1},
   "encoding": {"x": {"field": "x", "type": "quantitative", "axis": null}, "x2": {"field": "x2"}, "y": {"field": "y", "type": "quantitative", "axis": null}, "y2": {"field": "y2"}}},
  {"data": {"values": [{"x2": 2.17, "y2": 1.857, "ang": 341}, {"x2": 12.8, "y2": 1.81, "ang": 22}]},
   "mark": {"type": "point", "shape": "triangle-up", "filled": true, "color": "black", "size": 22, "opacity": 1},
   "encoding": {"x": {"field": "x2", "type": "quantitative", "axis": null}, "y": {"field": "y2", "type": "quantitative", "axis": null}, "angle": {"field": "ang", "type": "quantitative", "scale": null}}},
  {"data": {"values": [{"x": 1.73, "y": 1.97, "t": "54°C"}, {"x": 13.06, "y": 1.96, "t": "56°C"}]},
   "mark": {"type": "text", "font": "Liberation Sans", "fontWeight": "bold", "fontSize": 14, "color": "black", "align": "center", "baseline": "middle"},
   "encoding": {"x": {"field": "x", "type": "quantitative", "axis": null}, "y": {"field": "y", "type": "quantitative", "axis": null}, "text": {"field": "t"}}},
  {"data": {"values": [{"x": 14.63, "y": 2.78, "t": "Gate3/Gate2"}]},
   "mark": {"type": "text", "font": "Liberation Serif", "fontSize": 18, "color": "#333", "align": "right", "baseline": "middle"},
   "encoding": {"x": {"field": "x", "type": "quantitative", "axis": null}, "y": {"field": "y", "type": "quantitative", "axis": null}, "text": {"field": "t"}}},
  {"data": {"values": [{"x": 15.45, "y": -0.095, "t": "×10⁶"}]},
   "mark": {"type": "text", "font": "Liberation Sans", "fontWeight": "bold", "fontSize": 12.5, "color": "black", "align": "left", "baseline": "middle"},
   "encoding": {"x": {"field": "x", "type": "quantitative", "axis": null}, "y": {"field": "y", "type": "quantitative", "axis": null}, "text": {"field": "t"}}}
 ]
},
{
 "width": 449, "height": 262,
 "resolve": {"axis": {"x": "independent", "y": "independent"}},
 "layer": [
  {"data": {"name": "p3"}, "mark": {"type": "area", "color": "#FDB366", "opacity": 1},
   "encoding": {
    "x": {"field": "x", "type": "quantitative", "scale": {"domain": [0, 15], "nice": false, "zero": false},
      "axis": {"orient": "bottom", "values": [0,1.5,3,4.5,6,7.5,9,10.5,12,13.5,15], "labelExpr": "'' + datum.value", "tickSize": -6, "labelPadding": 10, "title": "Number of Steps", "titleFontSize": 17.5, "titleAlign": "right", "titleX": 449, "titleY": 24, "titleBaseline": "middle"}},
    "y": {"field": "lo", "type": "quantitative", "scale": {"domain": [0, 3], "nice": false, "zero": false},
      "axis": {"orient": "left", "values": [0,0.5,1,1.5,2,2.5], "labelExpr": "'' + datum.value", "tickSize": -6, "labelPadding": 11, "title": "Gate Ratio", "titleFontSize": 18.5, "titleX": -36, "titleY": 0, "titleAlign": "right", "titleBaseline": "middle", "titleAngle": 270}},
    "y2": {"field": "hi"}
   }},
  {"data": {"name": "p3"}, "mark": {"type": "line", "color": "black", "strokeWidth": 1.3},
   "encoding": {
    "x": {"field": "x", "type": "quantitative", "axis": {"orient": "top", "values": [0,1.5,3,4.5,6,7.5,9,10.5,12,13.5,15], "labelExpr": "['260','295','330','365','380','380','380','365','330','295','260'][round(datum.value/1.5)]", "tickSize": -6, "labelPadding": 7, "title": "T(K)", "titleFontSize": 17, "titleAlign": "right", "titleX": 443, "titleY": -17, "titleBaseline": "middle"}},
    "y": {"field": "hi", "type": "quantitative", "axis": {"orient": "right", "values": [0.5,1,1.5,2,2.5], "labels": false, "tickSize": -6, "title": null}}
   }},
  {"data": {"name": "p3"}, "mark": {"type": "line", "color": "black", "strokeWidth": 1.3},
   "encoding": {
    "x": {"field": "x", "type": "quantitative", "axis": {"orient": "bottom", "values": [0.75,2.25,3.75,5.25,6.75,8.25,9.75,11.25,12.75,14.25], "labels": false, "tickSize": -3, "title": null}},
    "y": {"field": "lo", "type": "quantitative", "axis": {"orient": "left", "values": [0.1,0.2,0.3,0.4,0.6,0.7,0.8,0.9,1.1,1.2,1.3,1.4,1.6,1.7,1.8,1.9,2.1,2.2,2.3,2.4,2.6,2.7,2.8,2.9], "labels": false, "tickSize": -3, "title": null}}
   }},
  {"data": {"name": "p3"}, "mark": {"type": "line", "color": "#0000FF", "strokeWidth": 1.7},
   "encoding": {
    "x": {"field": "x", "type": "quantitative", "axis": {"orient": "top", "values": [0.75,2.25,3.75,5.25,6.75,8.25,9.75,11.25,12.75,14.25], "labels": false, "tickSize": -3, "title": null}},
    "y": {"field": "m", "type": "quantitative", "axis": {"orient": "right", "values": [0.1,0.2,0.3,0.4,0.6,0.7,0.8,0.9,1.1,1.2,1.3,1.4,1.6,1.7,1.8,1.9,2.1,2.2,2.3,2.4,2.6,2.7,2.8,2.9], "labels": false, "tickSize": -3, "title": null}}
   }},
  {"data": {"values": [{"x": 14.43, "y": 2.75, "t": "Gate3/Gate1"}]},
   "mark": {"type": "text", "font": "Liberation Serif", "fontSize": 17.5, "color": "#333", "align": "right", "baseline": "middle"},
   "encoding": {"x": {"field": "x", "type": "quantitative", "axis": null}, "y": {"field": "y", "type": "quantitative", "axis": null}, "text": {"field": "t"}}},
  {"data": {"values": [{"x": 15.45, "y": -0.1, "t": "×10⁶"}]},
   "mark": {"type": "text", "font": "Liberation Sans", "fontWeight": "bold", "fontSize": 12.5, "color": "black", "align": "left", "baseline": "middle"},
   "encoding": {"x": {"field": "x", "type": "quantitative", "axis": null}, "y": {"field": "y", "type": "quantitative", "axis": null}, "text": {"field": "t"}}}
 ]
}
]
}
